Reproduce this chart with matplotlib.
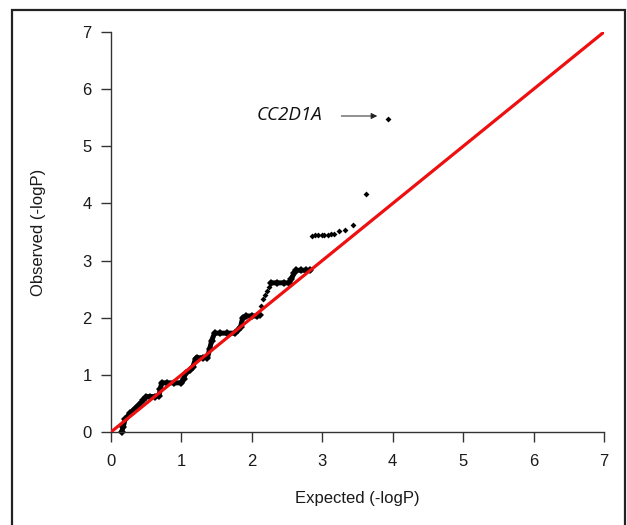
import matplotlib
matplotlib.use("Agg")
import matplotlib.pyplot as plt
from matplotlib.patches import Rectangle

plt.rcParams['font.family'] = ['Liberation Sans', 'DejaVu Sans']

# dense, overlapping part of the QQ curve (expected, observed)
dense_x = [0.15, 0.17, 0.20, 0.27, 0.34, 0.40, 0.46, 0.50, 0.55, 0.62, 0.68, 0.70,
           0.72, 0.80, 0.90, 1.00, 1.03, 1.06, 1.12, 1.16, 1.20, 1.22, 1.30, 1.37,
           1.40, 1.43, 1.47, 1.55, 1.65, 1.76, 1.80, 1.84, 1.87, 1.92, 2.00, 2.08, 2.11]
dense_y = [0.00, 0.08, 0.22, 0.33, 0.41, 0.48, 0.56, 0.62, 0.62, 0.62, 0.63, 0.75,
           0.86, 0.86, 0.86, 0.86, 0.93, 1.03, 1.08, 1.13, 1.28, 1.30, 1.30, 1.30,
           1.45, 1.60, 1.73, 1.73, 1.73, 1.73, 1.78, 1.84, 2.00, 2.03, 2.03, 2.03, 2.05]

dense2_x = [2.27, 2.35, 2.45, 2.53, 2.56, 2.60, 2.63, 2.70, 2.77, 2.83]
dense2_y = [2.61, 2.61, 2.61, 2.61, 2.68, 2.78, 2.83, 2.83, 2.83, 2.83]

# separate points
pts_x = [2.13, 2.16, 2.18, 2.21, 2.25,
         2.85, 2.90, 2.94, 2.99, 3.03, 3.08, 3.12, 3.17,
         3.24, 3.32, 3.44, 3.62, 3.93]
pts_y = [2.20, 2.33, 2.40, 2.46, 2.54,
         3.43, 3.44, 3.45, 3.45, 3.45, 3.45, 3.46, 3.46,
         3.52, 3.53, 3.62, 4.16, 5.48]

diag = [0, 7]
ticks = [0, 1, 2, 3, 4, 5, 6, 7]

gene_label = "CC2D1A"
label_xy = (2.07, 5.54)
arrow_from = (3.27, 5.53)
arrow_to = (3.78, 5.53)

fig = plt.figure(figsize=(6.27, 5.25), dpi=100)
ax = fig.add_axes([111 / 627, 1 - 432 / 525, 493 / 627, 400 / 525])

for xs, ys in [(dense_x, dense_y), (dense2_x, dense2_y)]:
    ax.plot(xs, ys, color='black', lw=3.6, solid_capstyle='round',
            solid_joinstyle='round', marker='D', ms=4, mew=0,
            clip_on=False, zorder=2)
ax.plot(pts_x, pts_y, 'D', color='black', ms=3, mew=0, clip_on=False, zorder=2)
ax.plot(diag, diag, color='#ee1010', lw=2.3, zorder=3)

ax.text(label_xy[0], label_xy[1], gene_label, fontsize=13.5, style='italic',
        family=['Open Sans', 'DejaVu Sans'], color='#111111', va='center', ha='left')
ax.annotate('', xy=arrow_to, xytext=arrow_from,
            arrowprops=dict(arrowstyle='-|>', color='#222222', lw=0.7, mutation_scale=9,
                            shrinkA=0, shrinkB=0))

ax.set_xlim(0, 7)
ax.set_ylim(0, 7)
ax.set_xticks(ticks)
ax.set_yticks(ticks)
for side in ['top', 'right']:
    ax.spines[side].set_visible(False)
for side in ['left', 'bottom']:
    ax.spines[side].set_color('#333333')
    ax.spines[side].set_linewidth(1.0)
ax.tick_params(length=7, width=1.0, color='#333333', labelsize=12, labelcolor='#1a1a1a')
ax.tick_params(axis='x', pad=9)
ax.tick_params(axis='y', pad=7)

ax.set_xlabel('Expected (-logP)', fontsize=12, color='#1a1a1a')
ax.set_ylabel('Observed (-logP)', fontsize=12, color='#1a1a1a')
ax.xaxis.set_label_coords(0.5, -0.1675)
ax.xaxis.label.set_verticalalignment('center')
ax.yaxis.set_label_coords(-0.148, 0.5)
ax.yaxis.label.set_verticalalignment('center')

# outer frame around the figure
fig.patches.append(Rectangle((12 / 627, -0.02), 613 / 627, 1.02 - 10 / 525,
                             transform=fig.transFigure, fill=False,
                             edgecolor='#222222', lw=1.6))

fig.savefig('out.png', dpi=100)
